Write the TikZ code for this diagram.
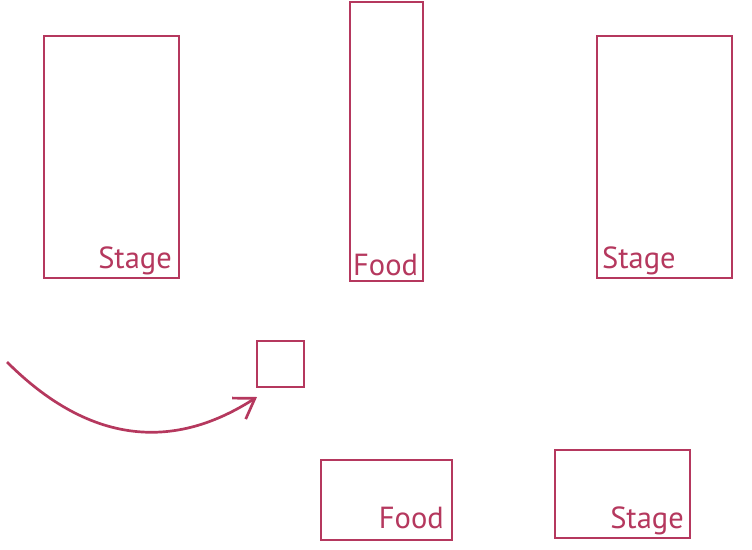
\documentclass[tikz,border=0pt]{standalone}
\usepackage{fontspec}
\setmainfont{PT Sans}
\usepackage{tikz}
\usetikzlibrary{arrows.meta,positioning,calc}
\definecolor{planink}{HTML}{B5385E}
\tikzset{
  areabox/.style={
    draw=planink,
    line width=2.7pt,
    inner sep=0pt,
    outer sep=0pt
  },
  arealabel/.style={
    text=planink,
    font=\fontsize{30.5}{32}\selectfont,
    inner sep=0pt
  },
  walkarrow/.style={-{Straight Barb[length=19pt,width=25pt,line width=2.7pt]},line width=2.7pt,draw=planink}
}
\begin{document}
\begin{tikzpicture}[x=1pt,y=-1pt]
  \useasboundingbox (0,0) rectangle (752,549);
  % areas
  \node[areabox, minimum width=135pt, minimum height=242pt] (stageleft) at (111.5,157) {};
  \node[areabox, minimum width=73pt, minimum height=279pt] (foodtop) at (386.5,141.5) {};
  \node[areabox, minimum width=135pt, minimum height=242pt] (stageright) at (664.5,157) {};
  \node[areabox, minimum width=47pt, minimum height=46pt] (gate) at (280.5,364) {};
  \node[areabox, minimum width=131pt, minimum height=80pt] (foodbottom) at (386.5,500) {};
  \node[areabox, minimum width=135pt, minimum height=88pt] (stagebottom) at (622.5,494) {};
  % labels
  \node[arealabel, anchor=base east] (stagelefttext) at ($(stageleft.south east)+(-7,-10)$) {Stage};
  \node[arealabel, anchor=base west] (foodtoptext) at ($(foodtop.south west)+(3,-6)$) {Food};
  \node[arealabel, anchor=base west] (stagerighttext) at ($(stageright.south west)+(5,-10)$) {Stage};
  \node[arealabel, anchor=base east] (foodbottomtext) at ($(foodbottom.south east)+(-8,-12)$) {Food};
  \node[arealabel, anchor=base east] (stagebottomtext) at ($(stagebottom.south east)+(-6,-10)$) {Stage};
  % path to the gate
  \coordinate (entry) at (7,362);
  \draw[walkarrow] (entry) .. controls (111,466) and (201,433) .. ([yshift=-10pt]gate.south west);
\end{tikzpicture}
\end{document}
